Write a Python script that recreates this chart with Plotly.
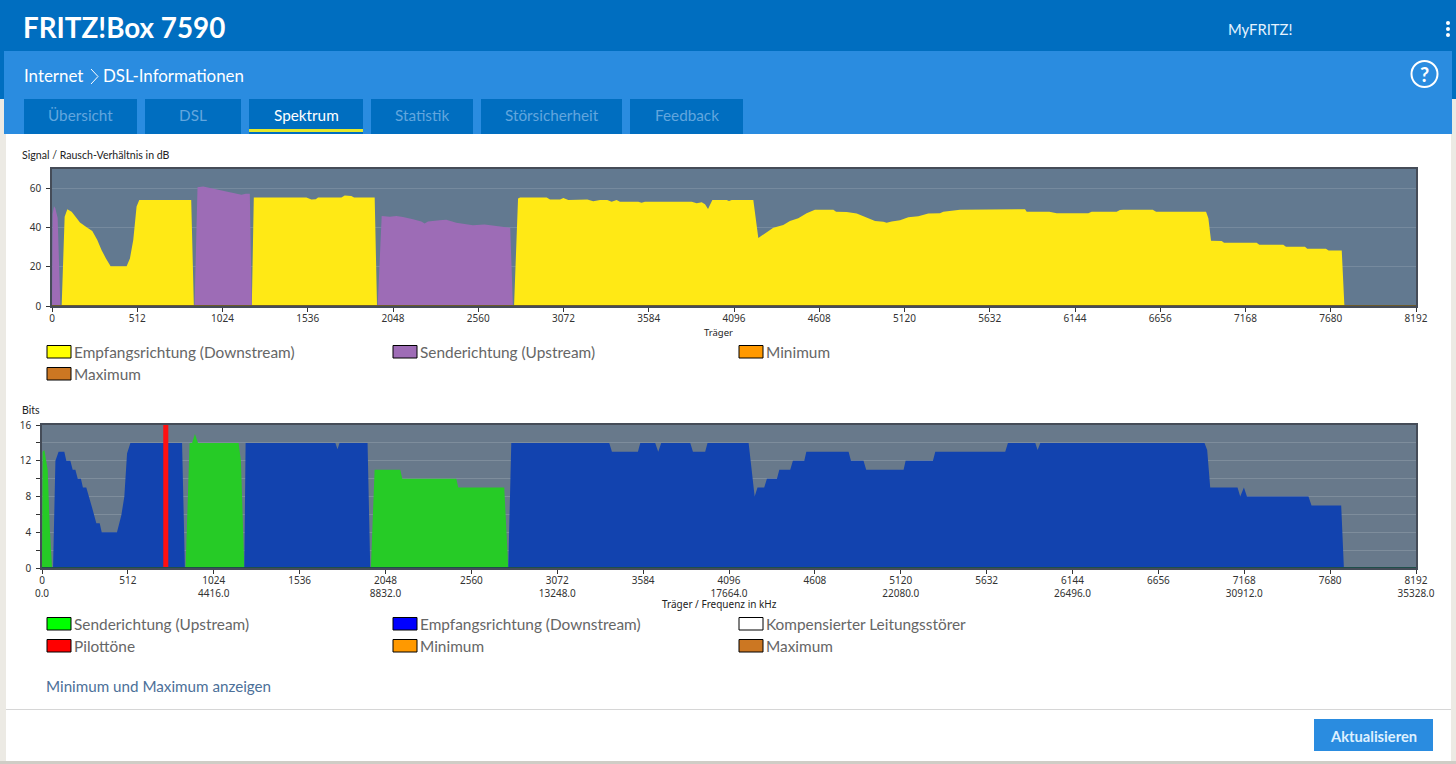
import plotly.graph_objects as go

# ---------- data ----------
snr_down_x = [58, 76, 92, 118, 138, 168, 208, 242, 272, 298, 324, 352, 448, 468, 488, 508, 524, 836, 852,
              1200, 1212, 1528, 1558, 1584, 1598, 1738, 1758, 1798, 1814, 1938, 1952,
              2775, 2799, 2811, 2971, 2991, 3051, 3071, 3101, 3161, 3215, 3251, 3291, 3335, 3361, 3391, 3411,
              3521, 3541, 3561, 3842, 3872, 3902, 3922, 3940, 3966, 4052, 4066, 4082, 4212, 4242, 4282, 4332,
              4392, 4432, 4482, 4532, 4582, 4693, 4709, 4773, 4833, 4883, 4943, 4993, 5013, 5043, 5093, 5143,
              5203, 5263, 5333, 5353, 5413, 5453, 5844, 5854, 5990, 6034, 6224, 6244, 6394, 6414, 6434, 6611,
              6631, 6931, 6945, 6961, 7025, 7039, 7235, 7251, 7395, 7411, 7525, 7539, 7651, 7667, 7746, 7762]
snr_down_y = [0, 45.6, 49.4, 48.2, 46, 42.7, 40.2, 38.3, 33.7, 28.5, 24.3, 20.3, 20.3, 24.3, 33.7, 50.8, 54.2, 54.2, 0,
              0, 55.4, 55.4, 54.4, 54.5, 55.4, 55.4, 56.4, 56.2, 55.4, 55.4, 0,
              0, 54.9, 55.4, 55.4, 54.4, 54.4, 55.2, 54.2, 54.2, 54.4, 53.5, 54.2, 54.2, 53.3, 54.2, 53.3,
              53.3, 52.8, 53.3, 53.3, 52.5, 53, 52, 49.6, 54.2, 54.2, 53.7, 54.2, 54.2, 34.7, 37.1, 40,
              41.4, 43.4, 44.8, 47.4, 49.2, 49.2, 48.2, 48, 47.2, 45.5, 43.4, 43.1, 42.6, 43.2, 43.8, 45.3,
              45.8, 47.2, 47.4, 48.2, 48.7, 49.2, 49.4, 48.2, 48.2, 47.4, 47.4, 48.2, 48.2, 49, 49.2, 49.2,
              48.2, 48.2, 44.8, 33.3, 33.2, 32.3, 32.3, 31.3, 31.3, 30.3, 30.3, 29.2, 29.2, 28.4, 28.4, 0]
snr_up_x = [0, 4, 12, 20, 34, 50,
            856, 874, 908, 948, 1008, 1068, 1138, 1164, 1188, 1200,
            1956, 1980, 2028, 2068, 2108, 2168, 2218, 2238, 2258, 2328, 2368, 2428, 2508, 2528, 2598, 2668, 2752, 2768]
snr_up_y = [0, 47, 51, 50, 45, 0,
            0, 60.7, 61, 60.3, 59.3, 58.1, 56.8, 57.4, 57.3, 0,
            0, 46, 45.6, 46, 45.5, 44.3, 43.2, 42.2, 43.2, 43.8, 44.1, 42.6, 41.7, 41.2, 41.7, 41, 40, 0]
bits_up_x = [0, 4, 14, 34, 46, 60,
             856, 880, 895, 912, 930, 1172, 1186, 1206,
             1961, 1983, 2136, 2148, 2470, 2482, 2756, 2780]
bits_up_y = [0, 13, 13.2, 11, 4.6, 0,
             0, 14, 14, 15, 14, 14, 12, 0,
             0, 11, 11, 10, 10, 9, 9, 0]
bits_down_x = [66, 80, 99, 133, 145, 169, 183, 199, 213, 232, 244, 264, 298, 324, 344, 356, 447, 473, 491, 507, 527, 835, 852,
               1206, 1214, 1749, 1762, 1774, 1941, 1957,
               2780, 2798, 3382, 3398, 3553, 3567, 3656, 3674, 3692, 3865, 3881, 3954, 3968, 4213, 4249, 4266, 4306,
               4322, 4382, 4396, 4461, 4477, 4545, 4557, 4809, 4823, 4898, 4914, 5137, 5149, 5312, 5326, 5743, 5759,
               5922, 5936, 5952, 6931, 6947, 6965, 7128, 7144, 7166, 7184, 7551, 7569, 7746, 7762]
bits_down_y = [0, 12, 13, 13, 12, 12, 11, 11, 10, 10, 9, 9, 6.8, 5, 5, 4, 4, 5.9, 8, 12.8, 14, 14, 0,
               0, 14, 14, 13.3, 14, 14, 0,
               0, 14, 14, 13, 13, 14, 14, 13, 14, 14, 13, 13, 14, 14, 8, 9, 9,
               10, 10, 11, 11, 12, 12, 13, 13, 12, 12, 11, 11, 12, 12, 13, 13, 14,
               14, 13.2, 14, 14, 13.2, 9, 9, 8, 9, 8, 8, 7, 7, 0]
pilot_x = [723, 723, 753, 753]
pilot_y = [0, 16, 16, 0]
span_x = [0, 8192]
floor_y = [0, 0]

carrier_ticks = [0, 512, 1024, 1536, 2048, 2560, 3072, 3584, 4096, 4608, 5120, 5632, 6144, 6656, 7168, 7680, 8192]
carrier_labels = [str(c) for c in carrier_ticks]
freq_labels = ["0.0", "", "4416.0", "", "8832.0", "", "13248.0", "", "17664.0", "", "22080.0", "", "26496.0", "", "30912.0", "", "35328.0"]
snr_ticks = [0, 20, 40, 60]
bits_ticks = [0, 2, 4, 6, 8, 10, 12, 14, 16]
bits_labels = ["0", "", "4", "", "8", "", "12", "", "16"]

tabs = ["Übersicht", "DSL", "Spektrum", "Statistik", "Störsicherheit", "Feedback"]
legend_snr = ["Empfangsrichtung (Downstream)", "Senderichtung (Upstream)", "Minimum", "Maximum"]
legend_bits = ["Senderichtung (Upstream)", "Empfangsrichtung (Downstream)", "Kompensierter Leitungsstörer", "Pilottöne", "Minimum", "Maximum"]

# ---------- page geometry and style ----------
W, H = 1456, 764
UI = "Lato"
AX = "Noto Sans"
DARK_BLUE = "#006EC0"
MID_BLUE = "#2A8CE0"
SIDE = "#ECEAE4"
LEG_COL = [47, 393, 739]

def px(x): return x / W
def py(y): return 1 - y / H

shapes, notes = [], []

def rect(x0, y0, x1, y1, fill, line=None, lw=0):
    shapes.append(dict(type="rect", xref="paper", yref="paper", x0=px(x0), x1=px(x1), y0=py(y1), y1=py(y0),
                       fillcolor=fill, line=dict(color=line or fill, width=lw), layer="below"))

def text(x, y, s, size, color, anchor="left", family=UI, weight=400):
    notes.append(dict(text=s, x=px(x), y=py(y), xref="paper", yref="paper", xanchor=anchor, yanchor="middle",
                      showarrow=False, font=dict(size=size, color=color, family=family, weight=weight), borderpad=0, borderwidth=0))

# surrounding chrome
rect(0, 0, W, 51, DARK_BLUE)
rect(0, 51, 4, 99, DARK_BLUE)
rect(1452, 51, W, 99, DARK_BLUE)
rect(0, 99, 6, H, SIDE)
rect(1451, 99, W, H, SIDE)
rect(0, 761, W, H, "#CFCDC6")
rect(4, 51, 1452, 134, MID_BLUE)

text(23, 28, "FRITZ!Box 7590", 27.8, "#FFFFFF", weight=700)
text(1228, 29, "MyFRITZ!", 14.8, "#E4F3FF")
for dot in (23, 29, 35):
    shapes.append(dict(type="circle", xref="paper", yref="paper", x0=px(1446), x1=px(1450), y0=py(dot + 2), y1=py(dot - 2),
                       fillcolor="#FFFFFF", line=dict(width=0), layer="below"))
text(24, 76, "Internet", 16.9, "#FFFFFF")
shapes.append(dict(type="path", xref="paper", yref="paper",
                   path=f"M {px(91)} {py(69)} L {px(98)} {py(76.5)} L {px(91)} {py(84)}",
                   line=dict(color="#FFFFFF", width=1), layer="below"))
text(103, 76, "DSL-Informationen", 16.9, "#FFFFFF")
shapes.append(dict(type="circle", xref="paper", yref="paper", x0=px(1411.5), x1=px(1437.5), y0=py(87), y1=py(61),
                   fillcolor=MID_BLUE, line=dict(color="#FFFFFF", width=2), layer="below"))
text(1424.5, 74.5, "?", 20, "#FFFFFF", "center", weight=700)

tab_spans = [(24, 137), (145, 241), (249, 363), (371, 473), (481, 622), (630, 743)]
for name, (a, b) in zip(tabs, tab_spans):
    rect(a, 99, b, 134, DARK_BLUE)
    text((a + b) / 2, 114.5, name, 15.3, "#FFFFFF" if name == "Spektrum" else "#62A6DE", "center")
rect(249, 129, 363, 132, "#E4E72B")

text(22, 154.5, "Signal / Rausch-Verhältnis in dB", 10.6, "#222222")
text(22, 410, "Bits", 10.5, "#222222")
text(718, 332, "Träger", 9.5, "#222222", "center", AX)
text(719, 604, "Träger / Frequenz in kHz", 10, "#222222", "center", AX)

def legend(labels, colors, row0):
    for i, (lab, col) in enumerate(zip(labels, colors)):
        x = LEG_COL[i % 3]
        y = row0 + 22 * (i // 3)
        rect(x, y - 6.5, x + 24, y + 6, col, "#000000", 1)
        text(x + 27, y, lab, 15.4, "#666666")

legend(legend_snr, ["#FFFF00", "#9E6CB6", "#FF9900", "#CC7722"], 352)
legend(legend_bits, ["#00FF00", "#0000FF", "#FFFFFF", "#FF0000", "#FF9900", "#CC7722"], 624)

text(46, 685.5, "Minimum und Maximum anzeigen", 15.2, "#4C7099")
rect(6, 709, 1451, 710, "#D6D6D6")
rect(1314, 719, 1433, 751, MID_BLUE)
text(1373.5, 735.5, "Aktualisieren", 14.7, "#DDF0FF", "center", weight=700)

# lower chart has a slightly greyer background than the upper one
shapes.append(dict(type="rect", xref="x2 domain", yref="y2 domain", x0=0, x1=1, y0=0, y1=1,
                   fillcolor="#68798B", line=dict(width=0), layer="below"))

# ---------- traces ----------
fig = go.Figure()

def area(x, y, name, color, ax):
    fig.add_trace(go.Scatter(x=x, y=y, name=name, mode="lines", line=dict(width=0, color=color),
                             fill="tozeroy", fillcolor=color, xaxis=ax[0], yaxis=ax[1], showlegend=False))

area(snr_down_x, snr_down_y, legend_snr[0], "#FFE915", ("x", "y"))
area(snr_up_x, snr_up_y, legend_snr[1], "#9D6CB6", ("x", "y"))
fig.add_trace(go.Scatter(x=span_x, y=floor_y, name="Minimum / Maximum", mode="lines", cliponaxis=False,
                         line=dict(color="#6B5A2C", width=2), xaxis="x", yaxis="y", showlegend=False))

area(bits_up_x, bits_up_y, legend_bits[0], "#26CB26", ("x2", "y2"))
area(bits_down_x, bits_down_y, legend_bits[1], "#1243AF", ("x2", "y2"))
area(pilot_x, pilot_y, legend_bits[3], "#FF1010", ("x2", "y2"))
fig.add_trace(go.Scatter(x=span_x, y=floor_y, name="Minimum / Maximum", mode="lines", cliponaxis=False,
                         line=dict(color="#1F4F4A", width=2), xaxis="x2", yaxis="y2", showlegend=False))

AXIS = dict(showline=True, mirror=True, linecolor="#454C58", linewidth=1.5, ticks="outside", ticklen=4, tickwidth=1,
            tickcolor="#333333", tickfont=dict(family=AX, size=10, color="#333333"), fixedrange=True, zeroline=False)

fig.update_layout(
    width=W, height=H, autosize=False, margin=dict(l=0, r=0, t=0, b=0, pad=0, autoexpand=False),
    paper_bgcolor="#FFFFFF", plot_bgcolor="#627990", shapes=shapes, annotations=notes, hovermode=False,
    xaxis=dict(AXIS, domain=[px(52), px(1416)], range=[0, 8192], tickvals=carrier_ticks, ticktext=carrier_labels,
               showgrid=False, anchor="y", ticklabelstandoff=-2),
    yaxis=dict(AXIS, domain=[py(306), py(169)], range=[0, 70], tickvals=snr_ticks, showgrid=True,
               gridcolor="rgba(255,255,255,0.13)", anchor="x", ticklabelstandoff=3),
    xaxis2=dict(AXIS, domain=[px(42), px(1416)], range=[0, 8192], tickvals=carrier_ticks,
                ticktext=[f"{c}<br>{f}" for c, f in zip(carrier_labels, freq_labels)], showgrid=False, anchor="y2",
                ticklabelstandoff=-2),
    yaxis2=dict(AXIS, domain=[py(568), py(425)], range=[0, 16], tickvals=bits_ticks, ticktext=bits_labels, showgrid=True,
                gridcolor="rgba(255,255,255,0.15)", anchor="x2", ticklabelstandoff=3),
)

PAGE_CSS = "document.body.style.margin='0';document.documentElement.style.overflow='hidden';"
fig.write_html("out.html", config=dict(displayModeBar=False, responsive=False), post_script=PAGE_CSS)
